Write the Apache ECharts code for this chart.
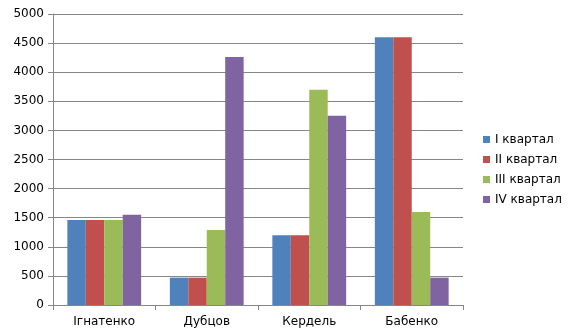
<!DOCTYPE html>
<html><head><meta charset="utf-8">
<script src="https://cdn.jsdelivr.net/npm/echarts@6/dist/echarts.min.js"></script>
<style>html,body{margin:0;padding:0;background:#fff}#c{width:576px;height:336px}</style>
</head><body><div id="c"></div>
<script>
const categories = ['Ігнатенко', 'Дубцов', 'Кердель', 'Бабенко'];
const seriesNames = ['I квартал', 'II квартал', 'III квартал', 'IV квартал'];
const q1 = [1460, 470, 1200, 4600];
const q2 = [1460, 470, 1200, 4600];
const q3 = [1460, 1290, 3700, 1600];
const q4 = [1550, 4260, 3250, 470];
const colors = ['#4F81BD', '#C0504D', '#9BBB59', '#8064A2'];
const allData = [q1, q2, q3, q4];

const chart = echarts.init(document.getElementById('c'), null, {renderer: 'canvas'});
const font = 'DejaVu Sans';
chart.setOption({
  animation: false,
  textStyle: {fontFamily: font},
  grid: {left: 53, right: 113, top: 14, bottom: 31, containLabel: false},
  legend: {
    orient: 'vertical', left: 478, top: 128,
    itemWidth: 7, itemHeight: 7, itemGap: 7,
    icon: 'rect',
    textStyle: {fontFamily: font, fontSize: 12, color: '#000', lineHeight: 13},
    data: seriesNames
  },
  xAxis: {
    type: 'category', data: categories,
    axisLine: {lineStyle: {color: '#868686', width: 1}},
    axisTick: {show: true, alignWithLabel: false, length: 5, lineStyle: {color: '#868686'}},
    axisLabel: {color: '#000', fontFamily: font, fontSize: 12, margin: 11}
  },
  yAxis: {
    type: 'value', min: 0, max: 5000, interval: 500,
    axisLine: {show: true, lineStyle: {color: '#868686', width: 1}},
    axisTick: {show: true, length: 5, lineStyle: {color: '#868686'}},
    splitLine: {lineStyle: {color: '#868686', width: 1}},
    axisLabel: {color: '#000', fontFamily: font, fontSize: 12, margin: 9, formatter: v => String(v)}
  },
  series: allData.map((d, i) => ({
    name: seriesNames[i], type: 'bar', data: d,
    barGap: '0%', barCategoryGap: '28%',
    itemStyle: {color: colors[i]}
  }))
});
</script></body></html>
